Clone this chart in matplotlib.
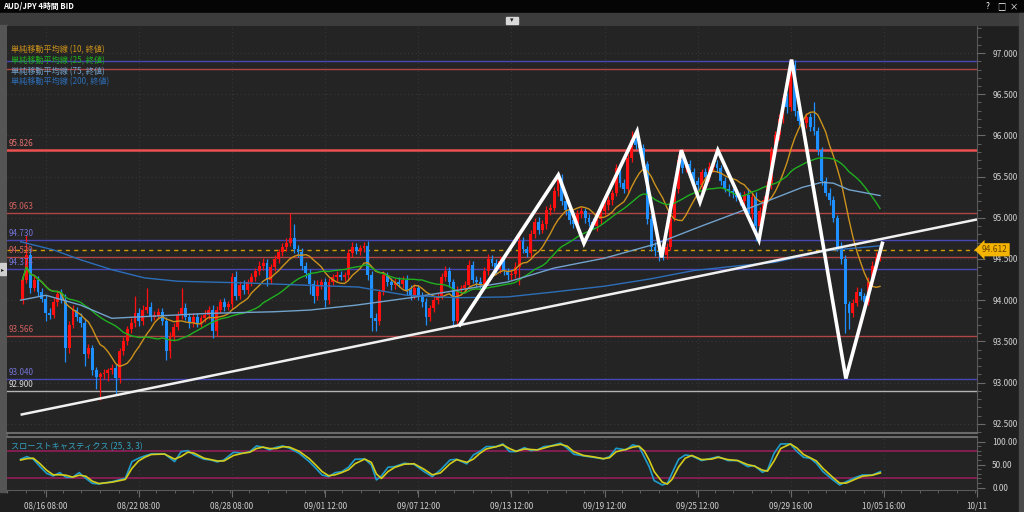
import numpy as np
import pandas as pd
import matplotlib
matplotlib.use('Agg')
import matplotlib.pyplot as plt
from matplotlib.patches import Rectangle
from matplotlib.transforms import blended_transform_factory

plt.rcParams['font.family'] = ['Noto Sans CJK JP', 'DejaVu Sans']

# ---- data (4h bars) ----
first_open = 94.00
closes = [
    94.25, 94.55, 94.15, 94.25, 94.10, 94.02, 93.85, 93.82, 93.98, 94.08, 94.00, 93.42,
    93.70, 93.88, 93.80, 93.72, 93.35, 93.42, 93.15, 93.07, 93.10, 93.12, 93.15, 93.18,
    93.05, 93.38, 93.50, 93.65, 93.72, 93.85, 93.75, 93.88, 93.92, 93.80, 93.82, 93.86,
    93.75, 93.38, 93.55, 93.68, 93.82, 93.90, 93.80, 93.72, 93.80, 93.72, 93.78, 93.82,
    93.88, 93.62, 93.88, 93.98, 93.92, 93.95, 94.28, 94.05, 94.18, 94.12, 94.22, 94.28,
    94.35, 94.42, 94.45, 94.25, 94.40, 94.50, 94.58, 94.65, 94.70, 94.75, 94.62, 94.58,
    94.42, 94.33, 94.20, 94.05, 94.18, 94.22, 94.00, 94.22, 94.28, 94.30, 94.28, 94.30,
    94.57, 94.65, 94.60, 94.63, 94.66, 94.30, 93.78, 93.75, 94.10, 94.30, 94.22, 94.18,
    94.22, 94.20, 94.25, 94.12, 94.05, 94.15, 94.05, 93.98, 93.80, 93.90, 94.00, 94.05,
    94.28, 94.35, 94.22, 93.75, 94.12, 94.15, 94.18, 94.43, 94.25, 94.22, 94.20, 94.35,
    94.50, 94.45, 94.38, 94.48, 94.35, 94.30, 94.32, 94.40, 94.72, 94.62, 94.57, 94.80,
    94.95, 94.85, 94.92, 95.10, 95.12, 95.32, 95.48, 95.20, 95.10, 94.97, 94.92, 95.05,
    95.08, 95.00, 94.95, 94.90, 94.98, 95.08, 95.15, 95.22, 95.30, 95.60, 95.42, 95.35,
    95.72, 95.94, 95.88, 95.85, 95.65, 94.98, 94.65, 94.60, 94.58, 94.55, 94.65, 95.00,
    95.35, 95.70, 95.60, 95.65, 95.55, 95.45, 95.40, 95.55, 95.50, 95.62, 95.65, 95.60,
    95.45, 95.35, 95.32, 95.30, 95.25, 95.20, 95.28, 95.05, 95.25, 94.90, 95.08, 95.22,
    95.40, 95.80, 96.00, 96.20, 96.45, 96.35, 96.85, 96.30, 96.18, 96.15, 96.22, 96.10,
    96.05, 95.82, 95.45, 95.30, 95.22, 95.00, 94.65, 94.50, 93.95, 93.85, 93.97, 94.10,
    94.05, 93.98, 94.22, 94.42, 94.52, 94.612,
]
up_wick = [
    .05, .24, .08, .05, .04, .05, .04, .06, .05, .04, .05, .08,
    .05, .06, .04, .05, .06, .05, .04, .04, .03, .04, .03, .04,
    .05, .04, .05, .04, .06, .20, .05, .06, .23, .06, .05, .05,
    .05, .05, .06, .04, .05, .25, .06, .05, .04, .05, .04, .06,
    .05, .06, .05, .04, .05, .04, .05, .08, .05, .06, .04, .05,
    .04, .05, .06, .05, .04, .05, .04, .05, .06, .31, .18, .05,
    .05, .04, .05, .05, .06, .04, .05, .05, .04, .06, .05, .04,
    .05, .06, .05, .04, .05, .06, .05, .06, .04, .05, .04, .05,
    .05, .06, .04, .05, .06, .05, .04, .05, .05, .04, .05, .04,
    .05, .06, .05, .04, .05, .04, .05, .06, .05, .04, .06, .05,
    .06, .05, .05, .06, .05, .04, .05, .06, .08, .05, .04, .05,
    .05, .06, .05, .04, .05, .05, .06, .05, .04, .05, .05, .04,
    .05, .04, .05, .05, .04, .05, .06, .05, .04, .05, .06, .05,
    .06, .11, .05, .04, .05, .04, .05, .06, .05, .04, .05, .06,
    .05, .06, .05, .04, .05, .06, .05, .04, .05, .06, .04, .05,
    .04, .05, .06, .04, .05, .06, .05, .08, .05, .06, .05, .04,
    .05, .06, .05, .06, .05, .06, .08, .07, .05, .06, .05, .05,
    .30, .05, .04, .05, .06, .05, .04, .06, .05, .04, .05, .06,
    .05, .04, .06, .05, .06, .05,
]
dn_wick = [
    .05, .04, .06, .04, .05, .04, .10, .05, .04, .05, .04, .17,
    .06, .04, .05, .04, .15, .05, .06, .15, .28, .06, .10, .05,
    .20, .06, .05, .04, .05, .04, .06, .05, .04, .05, .04, .05,
    .05, .10, .08, .04, .04, .05, .04, .06, .05, .04, .05, .04,
    .05, .08, .05, .04, .05, .04, .06, .05, .04, .05, .04, .05,
    .05, .04, .05, .08, .05, .04, .05, .04, .05, .04, .05, .06,
    .05, .06, .12, .08, .05, .04, .08, .05, .04, .05, .04, .05,
    .04, .05, .04, .05, .04, .05, .15, .13, .05, .04, .05, .06,
    .05, .04, .05, .06, .05, .04, .05, .06, .10, .05, .04, .05,
    .04, .05, .06, .07, .04, .05, .04, .05, .04, .05, .06, .04,
    .05, .04, .06, .05, .04, .05, .06, .05, .22, .05, .04, .05,
    .04, .05, .04, .05, .06, .04, .05, .05, .06, .05, .04, .05,
    .05, .06, .05, .04, .06, .05, .04, .05, .06, .04, .05, .05,
    .05, .04, .05, .06, .04, .06, .05, .06, .10, .06, .05, .04,
    .04, .05, .06, .05, .04, .05, .06, .05, .04, .05, .06, .05,
    .05, .04, .05, .06, .05, .04, .06, .05, .07, .18, .05, .04,
    .04, .05, .04, .06, .05, .08, .05, .06, .05, .04, .06, .05,
    .05, .06, .05, .04, .06, .05, .05, .06, .35, .20, .05, .04,
    .05, .06, .04, .05, .04, .05,
]

# longer moving averages, read at points along the lines
ma75_bars = [-0.5, 6, 15, 23, 31, 48, 65, 74, 86, 100, 112, 125, 137, 150, 163, 175, 188, 201, 206, 209, 213, 221]
ma75_vals = [94.00, 94.06, 93.94, 93.78, 93.80, 93.84, 93.86, 93.88, 93.94, 94.03, 94.12, 94.22,
             94.39, 94.51, 94.68, 94.90, 95.13, 95.37, 95.43, 95.42, 95.34, 95.27]
ma200_bars = [-0.5, 8, 15, 23, 31.5, 40, 57, 74, 86.5, 99, 112, 125, 137, 150, 162, 173, 185, 194, 207, 221]
ma200_vals = [94.71, 94.61, 94.49, 94.37, 94.27, 94.23, 94.21, 94.18, 94.16, 94.06, 94.03, 94.04,
              94.10, 94.17, 94.26, 94.36, 94.42, 94.46, 94.60, 94.66]

# slow stochastics (25, 3, 3)
stoch_bars = [-0.5, 1.1, 2.8, 4.5, 6.2, 7.9, 9.6, 11.2, 12.9, 14.6, 16.3, 18, 19.7, 23.1, 26.5,
              28.2, 29.9, 31.5, 33.2, 36.6, 39.2, 40.9, 42.6, 44.2, 46.8, 48.5, 50.2, 51.9, 54.4,
              56.9, 58.6, 60.3, 62, 63.7, 65.4, 67.1, 68.8, 71.3, 73.9, 75.6, 77.2, 78.9, 80.6,
              82.3, 84, 85.7, 88.2, 89.9, 91.2, 92.5, 94.2, 95.9, 98.4, 100.9, 103.5, 105.6,
              107.7, 110.2, 111.9, 114.5, 116.2, 117.8, 119.5, 122.1, 123.8, 125.5, 127.2,
              129.4, 131, 132.7, 134.4, 136.1, 138.7, 140.4, 142.1, 144.6, 147.1, 149.7, 151.3,
              153, 155.5, 157.3, 158.9, 160.2, 161.5, 162.8, 164.9, 166.2, 167.4, 169.1, 170.8,
              172.5, 175, 177.6, 179.3, 181.8, 184.3, 186.9, 188.6, 190.7, 192, 193.7, 195.4,
              197.9, 199.6, 201.3, 203, 204.6, 206.3, 208.9, 210.6, 212.3, 214.8, 216.5, 219, 221.1]
stoch_k = [61.7, 67.5, 61.7, 45.8, 31.3, 25.5, 32.7, 22.6, 22.6, 32.7, 20.4, 9.5, 8.1, 13.1, 20.4,
           56.6, 63.9, 69, 73.3, 73.3, 56.6, 78.4, 80.5, 71.1, 61.7, 60.2, 55.9, 60.2, 76.9,
           74.7, 78.4, 90.7, 87.8, 82, 87.8, 90.7, 85.6, 74.7, 56.6, 42.1, 27.6, 24, 32.7,
           34.9, 44.3, 61.7, 62.4, 49.4, 16.8, 25.5, 44.3, 45.8, 53, 50.8, 34.9, 24,
           38.5, 60.2, 61.7, 51.6, 71.1, 78.4, 89.2, 89.2, 95, 78.4, 78.4,
           87, 80.5, 82, 89.2, 90.7, 96.5, 85.6, 72.6, 69, 66, 62.4, 67.5,
           85.6, 82, 92.9, 89.2, 67.5, 45.8, 15.3, 5.9, 9.5, 31.3, 61.7, 71.1,
           69, 58.8, 63.9, 67.5, 58.8, 58.8, 45.8, 47.9, 33.4, 38.5, 74.7, 95,
           95, 78.4, 66, 63.9, 53, 34.9, 16.8, 5.9, 13.1, 22.6, 27.6, 27.6, 34.9]
stoch_d = [60, 63, 64, 52, 38, 28, 28, 27, 23, 27, 25, 14, 9, 12, 18,
           42, 58, 66, 72, 73, 62, 68, 77, 75, 64, 61, 58, 58, 70,
           75, 77, 85, 88, 85, 85, 89, 88, 79, 63, 49, 35, 26, 28,
           33, 39, 52, 62, 55, 30, 20, 35, 44, 51, 52, 40, 28,
           32, 52, 61, 55, 62, 74, 84, 89, 93, 85, 79,
           84, 83, 82, 86, 90, 94, 90, 78, 70, 67, 63, 65,
           78, 83, 88, 90, 80, 60, 35, 12, 8, 18, 45, 64,
           70, 61, 62, 66, 61, 59, 50, 47, 38, 36, 58, 85,
           95, 86, 72, 65, 58, 42, 22, 10, 10, 19, 25, 27, 32]

# horizontal levels (the top two labels sit under the MA legend, so they are not written)
level_prices = [96.907, 96.806, 95.826, 95.063, 94.730, 94.529, 94.374, 93.566, 93.040, 92.900]
level_kinds = ['blue', 'red', 'redbold', 'red', 'blue', 'red', 'blue', 'red', 'blue', 'gray']
level_labeled = [False, False, True, True, True, True, True, True, True, True]
last_price = 94.612

# drawn pattern and trend line
zigzag_bars = [112.7, 138.1, 144.7, 158.4, 164.7, 169.8, 174.6, 179.2, 189.8, 198.2, 212.2, 221.6]
zigzag_prices = [93.70, 95.52, 94.69, 96.05, 94.52, 95.82, 95.19, 95.82, 94.73, 96.92, 93.05, 94.69]
trend_bars = [-0.5, 246]
trend_prices = [92.61, 94.98]

tick_bars = [6, 30, 54, 78, 102, 126, 150, 174, 198, 222, 246]
tick_labels = ['08/16 08:00', '08/22 08:00', '08/28 08:00', '09/01 12:00', '09/07 12:00',
               '09/13 12:00', '09/19 12:00', '09/25 12:00', '09/29 16:00', '10/05 16:00', '10/11']

ma_names = ['単純移動平均線 (10, 終値)', '単純移動平均線 (25, 終値)',
            '単純移動平均線 (75, 終値)', '単純移動平均線 (200, 終値)']

# ---- styling ----
BG = '#242424'
FIG_BG = '#1f1f1f'
TXT = '#d0d0d0'
C_UP = '#ff1010'
C_DN = '#1e90ff'
C_MA = ['#cc921c', '#1fb01f', '#72a2cc', '#2d6eb8']
kind_color = {'blue': '#4646b4', 'red': '#b24646', 'redbold': '#ec5050', 'gray': '#b4b4b4'}
kind_label = {'blue': '#7474d8', 'red': '#d06060', 'redbold': '#e87070', 'gray': '#d8d8d8'}

W, H = 1024, 512
def fx(px):
    return px / W
def fy(py):
    return 1 - py / H

fig = plt.figure(figsize=(10.24, 5.12), dpi=100, facecolor=FIG_BG)
ax = fig.add_axes([fx(7), fy(433), fx(977) - fx(7), fy(26) - fy(433)], facecolor=BG)
ax2 = fig.add_axes([fx(7), fy(490), fx(977) - fx(7), fy(437) - fy(490)], facecolor=BG, sharex=ax)
left_pad = (11 - 7) / (977 - 7)

# window chrome
fig.patches.append(Rectangle((0, fy(13)), 1, 13 / H, transform=fig.transFigure, color='#050505', zorder=-5))
fig.patches.append(Rectangle((0, fy(25)), 1, 12 / H, transform=fig.transFigure, color='#3c3c3c', zorder=-5))
fig.patches.append(Rectangle((0, fy(492)), fx(7), (492 - 25) / H, transform=fig.transFigure, color='#555555', zorder=-5))
fig.patches.append(Rectangle((fx(1019), 0), fx(5), fy(13), transform=fig.transFigure, color='#4a4a4a', zorder=-5))
fig.patches.append(Rectangle((fx(506), fy(24)), fx(12), 7 / H, transform=fig.transFigure, color='#d8d8d8', zorder=-4))
fig.text(fx(512), fy(20.5), '▾', color='#202020', fontsize=5, ha='center', va='center')
fig.patches.append(Rectangle((0, fy(275)), fx(6), 12 / H, transform=fig.transFigure, color='#d0d0d0', zorder=-4))
fig.text(fx(3), fy(269), '▸', color='#202020', fontsize=4.5, ha='center', va='center')
fig.text(fx(3), fy(6.5), 'AUD/JPY 4時間 BID', color='white', fontsize=5.6, weight='bold', va='center')
for px, s in [(988, '?'), (1001, '□'), (1014, '×')]:
    fig.text(fx(px), fy(6.5), s, color='white', fontsize=6, ha='center', va='center')

# ---- price panel ----
closes = np.array(closes)
opens = np.concatenate([[first_open], closes[:-1]])
highs = np.maximum(opens, closes) + np.array(up_wick)
lows = np.minimum(opens, closes) - np.array(dn_wick)
bars = np.arange(len(closes))
cols = np.where(closes >= opens, C_UP, C_DN)

ax.set_xlim(-0.5, 246)
ax.set_ylim(92.388, 97.328)

for p in np.arange(92.5, 97.01, 0.5):
    ax.axhline(p, color='#3a3a3a', lw=0.7, ls=(0, (1, 3)), zorder=0)
for b in tick_bars:
    ax.axvline(b, color='#3a3a3a', lw=0.7, ls=(0, (1, 3)), zorder=0)
    ax2.axvline(b, color='#3a3a3a', lw=0.7, ls=(0, (1, 3)), zorder=0)

lbl_tr = blended_transform_factory(ax.transAxes, ax.transData)
for p, k, show in zip(level_prices, level_kinds, level_labeled):
    ax.axhline(p, color=kind_color[k], lw=1.8 if k == 'redbold' else 1.0, zorder=1)
    if show:
        ax.text(0.0012, p + 0.025, f'{p:.3f}', transform=lbl_tr, color=kind_label[k],
                fontsize=5.8, va='bottom', ha='left', zorder=6)
ax.axhline(last_price, color='#d29a00', lw=1.0, ls=(0, (3, 3)), zorder=1)

ax.vlines(bars, lows, highs, colors=cols, lw=0.9, zorder=2)
ax.bar(bars, np.maximum(np.abs(closes - opens), 0.012), bottom=np.minimum(opens, closes),
       width=0.74, color=cols, linewidth=0, zorder=3)

s = pd.Series(closes)
ax.plot(bars, s.rolling(10, min_periods=1).mean(), color=C_MA[0], lw=1.0, zorder=4)
ax.plot(bars, s.rolling(25, min_periods=1).mean(), color=C_MA[1], lw=1.0, zorder=4)
ax.plot(ma75_bars, ma75_vals, color=C_MA[2], lw=1.0, zorder=4)
ax.plot(ma200_bars, ma200_vals, color=C_MA[3], lw=1.0, zorder=4)

ax.plot(trend_bars, trend_prices, color='#f0f0f0', lw=1.8, zorder=5, solid_capstyle='butt')
ax.plot(zigzag_bars, zigzag_prices, color='white', lw=2.6, zorder=5, solid_joinstyle='miter')

for i, (name, c) in enumerate(zip(ma_names, C_MA)):
    ax.text(left_pad, 1 - (50 + 10.7 * i - 26) / 407, name, transform=ax.transAxes,
            color=c, fontsize=5.9, va='center', ha='left', zorder=7)

ax.yaxis.tick_right()
ax.set_yticks(np.arange(92.5, 97.01, 0.5))
ax.set_yticks(np.arange(92.4, 97.31, 0.1), minor=True)
ax.yaxis.set_major_formatter(plt.FormatStrFormatter('%.3f'))
ax.tick_params(axis='y', which='major', colors='#6a6a6a', labelcolor=TXT, labelsize=6, length=6, pad=5)
ax.tick_params(axis='y', which='minor', colors='#6a6a6a', length=3)
ax.tick_params(axis='x', which='both', bottom=False, labelbottom=False)
for sp in ['left', 'top']:
    ax.spines[sp].set_visible(False)
ax.spines['right'].set_color('#5a5a5a')
ax.spines['bottom'].set_color('#6a6a6a')
ax.spines['bottom'].set_linewidth(1.5)

ax.text(1.005, last_price, f'{last_price:.3f}', transform=lbl_tr, color='#6a4500', fontsize=6,
        va='center', ha='left', zorder=8,
        bbox=dict(boxstyle='larrow,pad=0.25', fc='#f5b400', ec='none'))

# ---- stochastics panel ----
ax2.set_ylim(-5, 110)
for v in [80, 20]:
    ax2.axhline(v, color='#8c1e55', lw=1.3, zorder=1)
ax2.plot(stoch_bars, stoch_k, color='#1e9ccc', lw=1.2, zorder=3)
ax2.plot(stoch_bars, stoch_d, color='#d4cc1a', lw=1.2, zorder=4)
ax2.text(left_pad, 90, 'スローストキャスティクス (25, 3, 3)', color='#34a4c4',
         transform=blended_transform_factory(ax2.transAxes, ax2.transData),
         fontsize=5.9, va='center', ha='left', zorder=6)

ax2.yaxis.tick_right()
ax2.set_yticks([0, 50, 100])
ax2.set_yticks(np.arange(0, 101, 10), minor=True)
ax2.yaxis.set_major_formatter(plt.FormatStrFormatter('%.2f'))
ax2.tick_params(axis='y', which='major', colors='#6a6a6a', labelcolor=TXT, labelsize=6, length=6, pad=5)
ax2.tick_params(axis='y', which='minor', colors='#6a6a6a', length=3)
ax2.set_xticks(tick_bars)
ax2.set_xticklabels(tick_labels)
minor_x = np.arange(-4, 246, 4.8)
ax2.set_xticks(minor_x, minor=True)
ax2.tick_params(axis='x', which='major', colors='#6a6a6a', labelcolor=TXT, labelsize=5.8, length=5, pad=3)
ax2.tick_params(axis='x', which='minor', colors='#6a6a6a', length=2.5)
ax2.spines['left'].set_visible(False)
ax2.spines['top'].set_color('#6a6a6a')
ax2.spines['top'].set_linewidth(1.5)
for sp in ['bottom', 'right']:
    ax2.spines[sp].set_color('#5a5a5a')

fig.savefig('out.png', dpi=100, facecolor=FIG_BG)
